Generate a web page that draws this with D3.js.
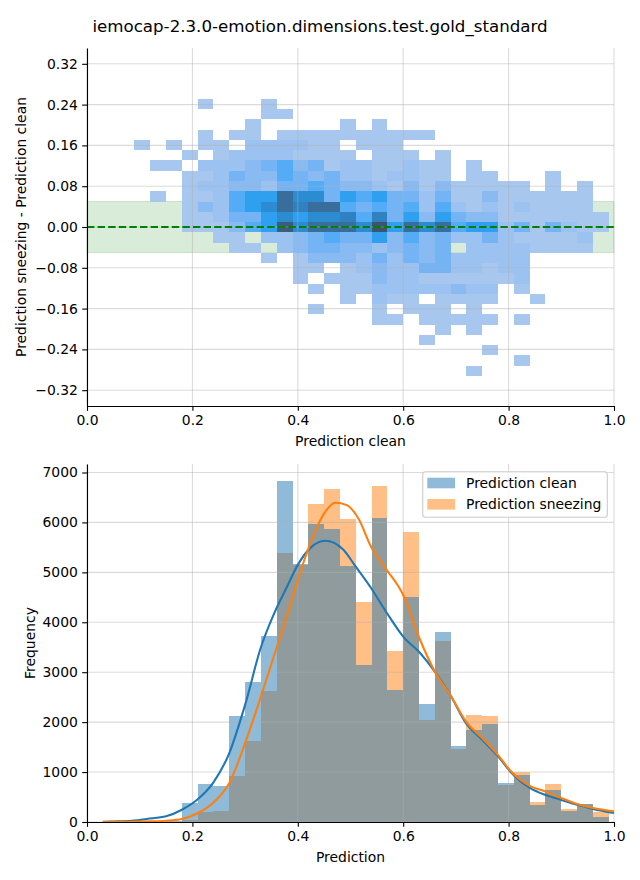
<!DOCTYPE html>
<html>
<head>
<meta charset="utf-8">
<script src="https://cdn.jsdelivr.net/npm/d3@7"></script>
<style>
  body { margin: 0; background: #fff; }
  svg { display: block; font-family: "DejaVu Sans", sans-serif; }
</style>
</head>
<body>
<svg id="chart" width="640" height="880"></svg>
<script>
// ---------------- DATA ----------------
const titleText = "iemocap-2.3.0-emotion.dimensions.test.gold_standard";

// Top panel: 2D histogram (x = Prediction clean, y = sneezing - clean)
const heatXStart = 0.09, heatXStep = 0.03;          // 30 columns
const heatYTop = 0.251, heatYBottom = -0.2917;       // 27 rows
// shade letters -> counts per cell ('.' = empty)
const levelCounts = { a: 22, b: 94, c: 184, d: 271, e: 387, f: 538, g: 769, h: 899, i: 1138, k: 1350, j: 1450 };
const heatRows = [
  "....a...a." + ".........." + "..........",
  "........aa" + ".........." + "..........",
  ".......a.." + "...a.a...." + "..........",
  "....a.aa.a" + "aaaaaaaaa." + "..........",
  "a.a.aa.bbb" + "baa.aaa..." + "..........",
  "...a.abbbb" + "aaaa.aaa.a" + "..........",
  ".aa.bbbcde" + "cdabbaabaa" + ".a........",
  "...aabdcce" + "dcdbbabbaa" + ".aa...a...",
  "...abbccbd" + "dedccbacac" + "aaaaa.a.a.",
  ".a.aabeffi" + "ggdfefddbd" + "aacaaaaaa.",
  "...acbefgi" + "hiiededebe" + "bababaaaa.",
  "...aabddfg" + "fgghehdfcf" + "dccaaaaaaa",
  "...aaacefk" + "giiigjfigi" + "effbdadbaa",
  ".....aa.bb" + "cdeddfcecd" + "bbdbaaaab.",
  "......aa.b" + "cddccbcdcd" + ".bbbbaaaa.",
  "........a." + "acccbdbdcd" + "bbbbb.....",
  ".........." + "aa.abcbbdd" + "bbabb.....",
  ".........." + "a.aaacbbaa" + "aaaab.....",
  ".........." + ".a.aabbbbb" + "cbb.a.....",
  ".........." + "...a.baa.a" + "aaa..a....",
  ".........." + ".a...a.aaa" + ".a........",
  ".........." + ".....aa.aa" + "aaa.a.....",
  ".........." + ".........a" + ".a........",
  ".........." + "........a." + "..........",
  ".........." + ".........." + "..a.......",
  ".........." + ".........." + "....a.....",
  ".........." + ".........." + ".a........"
];
const bandHalfWidth = 0.05;
const topYTicks = [-0.32, -0.24, -0.16, -0.08, 0.00, 0.08, 0.16, 0.24, 0.32];
const xTicks = [0, 0.2, 0.4, 0.6, 0.8, 1.0];

// Bottom panel: histograms (32 bins of 0.03 from 0.03)
const histStart = 0.03, histStep = 0.03;
const cleanCounts = [1, 2, 4, 8, 15, 386, 766, 726, 2126, 2806, 3726, 6826, 5170, 5970, 5866, 5126,
                     3140, 6086, 2640, 4510, 2360, 3800, 1520, 1850, 1960, 790, 950, 350, 640, 230, 365, 100];
const sneezeCounts = [0, 1, 2, 4, 8, 50, 200, 220, 913, 1626, 2626, 5386, 5150, 6373, 6666, 6060,
                      4406, 6726, 3426, 5806, 2046, 3620, 1470, 2140, 2126, 750, 993, 393, 766, 266, 360, 200];
const kdeCleanX = [0.03, 0.06, 0.09, 0.113, 0.15, 0.18, 0.209, 0.239, 0.27, 0.30, 0.33, 0.354, 0.379, 0.40, 0.425, 0.452,
                   0.486, 0.51, 0.539, 0.569, 0.60, 0.632, 0.66, 0.691, 0.719, 0.75, 0.78, 0.803, 0.841, 0.869, 0.899, 0.93, 0.96, 1.0];
const kdeCleanY = [5, 12, 28, 60, 113, 246, 446, 780, 1380, 2346, 3500, 4150, 4700, 5150, 5500, 5633,
                   5460, 5113, 4686, 4186, 3713, 3386, 3013, 2513, 1980, 1646, 1313, 1013, 680, 546, 446, 346, 260, 180];
const kdeSneezeX = [0.03, 0.08, 0.12, 0.15, 0.18, 0.209, 0.239, 0.27, 0.30, 0.33, 0.357, 0.379, 0.40, 0.419, 0.452, 0.471,
                    0.493, 0.515, 0.539, 0.569, 0.60, 0.63, 0.66, 0.691, 0.72, 0.75, 0.78, 0.803, 0.841, 0.869, 0.90, 0.93, 0.96, 1.0];
const kdeSneezeY = [1, 4, 12, 25, 60, 170, 380, 780, 1580, 2513, 3400, 4113, 4850, 5446, 6213, 6393,
                    6346, 6080, 5513, 5046, 4546, 3700, 3013, 2513, 2000, 1680, 1340, 1030, 720, 613, 480, 360, 280, 213];
const bottomYTicks = [0, 1000, 2000, 3000, 4000, 5000, 6000, 7000];
const legendLabels = ["Prediction clean", "Prediction sneezing"];

// ---------------- HUSL (seaborn colormap from color) ----------------
const M = [[3.240969941904521, -1.537383177570093, -0.498610760293],
           [-0.96924363628087, 1.87596750150772, 0.041555057407175],
           [0.055630079696993, -0.20397695888897, 1.056971514242878]];
const MINV = [[0.41239079926595, 0.35758433938387, 0.18048078840183],
              [0.21263900587151, 0.71516867876775, 0.072192315360733],
              [0.019330818715591, 0.11919477979462, 0.95053215224966]];
const REF_U = 0.19783000664283, REF_V = 0.46831999493879, KAPPA = 903.2962962, EPS = 0.0088564516;
function bounds(L) {
  const s1 = Math.pow(L + 16, 3) / 1560896;
  const s2 = s1 > EPS ? s1 : L / KAPPA;
  const out = [];
  for (const [m1, m2, m3] of M) {
    for (const t of [0, 1]) {
      const top1 = (284517 * m1 - 94839 * m3) * s2;
      const top2 = (838422 * m3 + 769860 * m2 + 731718 * m1) * L * s2 - 769860 * t * L;
      const bot = (632260 * m3 - 126452 * m2) * s2 + 126452 * t;
      out.push([top1 / bot, top2 / bot]);
    }
  }
  return out;
}
function maxChroma(L, H) {
  const h = H / 360 * Math.PI * 2;
  let m = Infinity;
  for (const [sl, ic] of bounds(L)) {
    const len = ic / (Math.sin(h) - sl * Math.cos(h));
    if (len >= 0) m = Math.min(m, len);
  }
  return m;
}
const fromLin = c => c <= 0.0031308 ? 12.92 * c : 1.055 * Math.pow(c, 1 / 2.4) - 0.055;
const toLin = c => c > 0.04045 ? Math.pow((c + 0.055) / 1.055, 2.4) : c / 12.92;
function huslToRgb(H, S, L) {
  const C = maxChroma(L, H) * S / 100;
  const h = H / 180 * Math.PI;
  const U = C * Math.cos(h), V = C * Math.sin(h);
  const vu = U / (13 * L) + REF_U, vv = V / (13 * L) + REF_V;
  const Y = L <= 8 ? L / KAPPA : Math.pow((L + 16) / 116, 3);
  const X = -(9 * Y * vu) / ((vu - 4) * vv - vu * vv);
  const Z = (9 * Y - 15 * vv * Y - vv * X) / (3 * vv);
  return M.map(r => Math.max(0, Math.min(1, fromLin(r[0] * X + r[1] * Y + r[2] * Z))));
}
function rgbToHusl(r, g, b) {
  const lin = [r, g, b].map(toLin);
  const [X, Y, Z] = MINV.map(row => row[0] * lin[0] + row[1] * lin[1] + row[2] * lin[2]);
  const L = Y <= EPS ? Y * KAPPA : 116 * Math.cbrt(Y) - 16;
  const d = X + 15 * Y + 3 * Z;
  const U = 13 * L * (4 * X / d - REF_U), V = 13 * L * (9 * Y / d - REF_V);
  const C = Math.hypot(U, V);
  let H = Math.atan2(V, U) * 180 / Math.PI; if (H < 0) H += 360;
  return [H, C / maxChroma(L, H) * 100, L];
}
const base = d3.rgb("#1f77b4");
const [baseH, baseS] = rgbToHusl(base.r / 255, base.g / 255, base.b / 255);
function seabornInterp(t) {
  const k = (1 - Math.max(0, Math.min(1, t))) * 255;
  const xx = -1 + 2 * k / (Math.floor(1.15 * 256) - 1);
  const L = 35 + 45 * k / 255;
  const [r, g, b] = huslToRgb(baseH, baseS * Math.cos(xx), L);
  return d3.rgb(r * 255, g * 255, b * 255).formatHex();
}

// ---------------- DRAW ----------------
const svg = d3.select("#chart");
const FS = 13.9;
const left = 87, right = 614;
const top1 = 48, bot1 = 406, top2 = 464, bot2 = 822;
const gridColor = "#b0b0b0", gridOpacity = 0.45;
const minus = s => s.replace("-", "\u2212");

svg.append("text").attr("x", 320).attr("y", 32).attr("text-anchor", "middle")
  .attr("font-size", 16.67).text(titleText);

// ===== Top panel =====
const x1 = d3.scaleLinear().domain([0, 1]).range([left, right]);
const y1 = d3.scaleLinear().domain([-0.351, 0.351]).range([bot1, top1]);
const g1 = svg.append("g");

// green tolerance band
g1.append("rect").attr("x", x1(0)).attr("width", x1(1) - x1(0))
  .attr("y", y1(bandHalfWidth)).attr("height", y1(-bandHalfWidth) - y1(bandHalfWidth))
  .attr("fill", "green").attr("fill-opacity", 0.15)
  .attr("stroke", "green").attr("stroke-opacity", 0.15).attr("stroke-width", 1);

// cells
const nRows = heatRows.length;
const rowH = (heatYTop - heatYBottom) / nRows;
const maxCount = d3.max(Object.values(levelCounts));
const color = d3.scaleSequential(seabornInterp).domain([0, maxCount]);
const cells = [];
heatRows.forEach((row, r) => {
  for (let c = 0; c < row.length; c++) {
    const ch = row[c];
    if (ch === ".") continue;
    cells.push({ x0: heatXStart + c * heatXStep, y0: heatYTop - r * rowH, count: levelCounts[ch] });
  }
});
g1.append("g").selectAll("rect").data(cells).join("rect")
  .attr("x", d => x1(d.x0)).attr("width", d => x1(d.x0 + heatXStep) - x1(d.x0))
  .attr("y", d => y1(d.y0)).attr("height", d => y1(d.y0 - rowH) - y1(d.y0))
  .attr("fill", d => color(d.count))
  .attr("shape-rendering", "crispEdges");

// grid
function drawGrid(g, xs, ys, xTickVals, yTickVals, yTop, yBot) {
  g.append("g").selectAll("line").data(xTickVals).join("line")
    .attr("x1", d => xs(d)).attr("x2", d => xs(d)).attr("y1", yTop).attr("y2", yBot)
    .attr("stroke", gridColor).attr("stroke-opacity", gridOpacity).attr("stroke-width", 1.1);
  g.append("g").selectAll("line").data(yTickVals).join("line")
    .attr("x1", left).attr("x2", right).attr("y1", d => ys(d)).attr("y2", d => ys(d))
    .attr("stroke", gridColor).attr("stroke-opacity", gridOpacity).attr("stroke-width", 1.1);
}
drawGrid(g1, x1, y1, xTicks, topYTicks, top1, bot1);

// zero line
g1.append("line").attr("x1", x1(0)).attr("x2", x1(1)).attr("y1", y1(0)).attr("y2", y1(0))
  .attr("stroke", "green").attr("stroke-width", 2).attr("stroke-dasharray", "7.4,3.2");

// axes
function styleAxis(g) {
  g.selectAll("text").attr("font-size", FS).attr("font-family", "DejaVu Sans").attr("fill", "#000");
  g.selectAll("line").attr("stroke", "#000").attr("stroke-width", 1.1);
  g.select(".domain").attr("stroke", "#000").attr("stroke-width", 1.1);
}
const xAx1 = g1.append("g").attr("transform", `translate(0,${bot1})`)
  .call(d3.axisBottom(x1).tickValues(xTicks).tickSize(4.86).tickSizeOuter(0).tickPadding(4.3).tickFormat(d3.format(".1f")));
styleAxis(xAx1);
const yAx1 = g1.append("g").attr("transform", `translate(${left},0)`)
  .call(d3.axisLeft(y1).tickValues(topYTicks).tickSize(4.86).tickSizeOuter(0).tickPadding(4.3)
    .tickFormat(d => minus(d3.format(".2f")(Math.abs(d) < 1e-9 ? 0 : d))));
styleAxis(yAx1);
svg.append("text").attr("x", (left + right) / 2).attr("y", 446).attr("text-anchor", "middle")
  .attr("font-size", FS).text("Prediction clean");
svg.append("text").attr("transform", `translate(26,${(top1 + bot1) / 2}) rotate(-90)`)
  .attr("text-anchor", "middle").attr("font-size", FS).text("Prediction sneezing - Prediction clean");

// ===== Bottom panel =====
const x2 = d3.scaleLinear().domain([0, 1]).range([left, right]);
const y2 = d3.scaleLinear().domain([0, 7170]).range([bot2, top2]);
const g2 = svg.append("g");

function bars(counts, fill) {
  g2.append("g").selectAll("rect").data(counts).join("rect")
    .attr("x", (d, i) => x2(histStart + i * histStep))
    .attr("width", (d, i) => x2(histStart + (i + 1) * histStep) - x2(histStart + i * histStep))
    .attr("y", d => y2(d)).attr("height", d => y2(0) - y2(d))
    .attr("fill", fill).attr("fill-opacity", 0.5)
    .attr("shape-rendering", "crispEdges");
}
bars(sneezeCounts, "#ff7f0e");
bars(cleanCounts, "#1f77b4");

drawGrid(g2, x2, y2, xTicks, bottomYTicks, top2, bot2);

const line2 = d3.line().x(d => x2(d[0])).y(d => y2(d[1])).curve(d3.curveMonotoneX);
g2.append("path").datum(kdeCleanX.map((x, i) => [x, kdeCleanY[i]]))
  .attr("d", line2).attr("fill", "none").attr("stroke", "#1f77b4").attr("stroke-width", 2.08);
g2.append("path").datum(kdeSneezeX.map((x, i) => [x, kdeSneezeY[i]]))
  .attr("d", line2).attr("fill", "none").attr("stroke", "#ff7f0e").attr("stroke-width", 2.08);

const xAx2 = g2.append("g").attr("transform", `translate(0,${bot2})`)
  .call(d3.axisBottom(x2).tickValues(xTicks).tickSize(4.86).tickSizeOuter(0).tickPadding(4.3).tickFormat(d3.format(".1f")));
styleAxis(xAx2);
const yAx2 = g2.append("g").attr("transform", `translate(${left},0)`)
  .call(d3.axisLeft(y2).tickValues(bottomYTicks).tickSize(4.86).tickSizeOuter(0).tickPadding(4.3).tickFormat(d3.format("d")));
styleAxis(yAx2);
svg.append("text").attr("x", (left + right) / 2).attr("y", 862).attr("text-anchor", "middle")
  .attr("font-size", FS).text("Prediction");
svg.append("text").attr("transform", `translate(35,${(top2 + bot2) / 2}) rotate(-90)`)
  .attr("text-anchor", "middle").attr("font-size", FS).text("Frequency");

// legend
const lg = svg.append("g");
lg.append("rect").attr("x", 422.7).attr("y", 471.7).attr("width", 184.6).attr("height", 45.6)
  .attr("rx", 2.8).attr("fill", "#fff").attr("fill-opacity", 0.8)
  .attr("stroke", "#cccccc").attr("stroke-width", 1.1);
const legendColors = ["#1f77b4", "#ff7f0e"];
legendLabels.forEach((lab, i) => {
  const yy = 477.7 + i * 21.3;
  lg.append("rect").attr("x", 427.3).attr("y", yy).attr("width", 27.8).attr("height", 10.6)
    .attr("fill", legendColors[i]).attr("fill-opacity", 0.5);
  lg.append("text").attr("x", 466).attr("y", yy + 10.3).attr("font-size", FS).text(lab);
});
</script>
</body>
</html>
